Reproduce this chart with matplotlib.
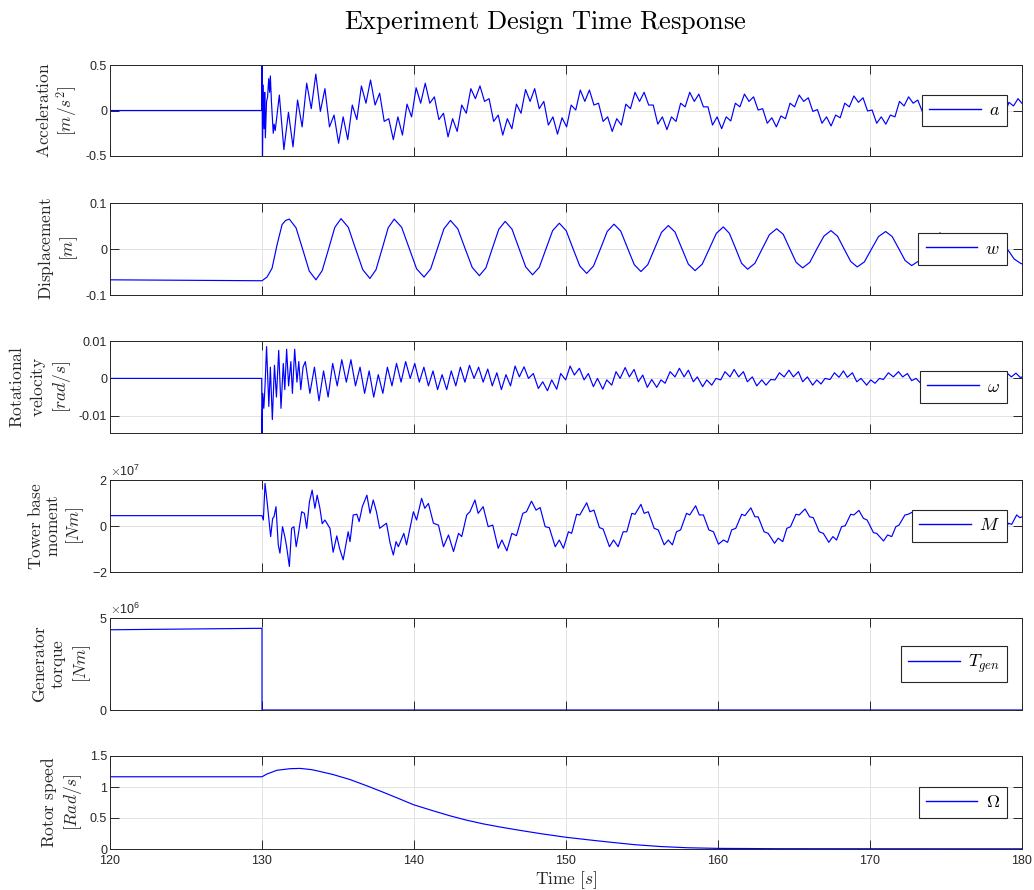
import numpy as np
import matplotlib.pyplot as plt
from matplotlib.ticker import FuncFormatter, ScalarFormatter

plt.rcParams['font.family'] = 'Liberation Sans'
plt.rcParams['mathtext.fontset'] = 'cm'
plt.rcParams['axes.unicode_minus'] = False

# ---- acceleration a [m/s^2] ----
acc_pre_t = [120.0, 129.98]
acc_pre = [0.0, 0.0]
acc_tr_t = [130.0, 130.03, 130.08, 130.14, 130.18, 130.22, 130.3, 130.37, 130.44,
            130.5, 130.55, 130.62, 130.74, 130.8, 130.87]
acc_tr = [0.6, -0.6, 0.28, -0.2, 0.2, -0.3, 0.1, 0.15, 0.35, 0.2, 0.38, 0.1, -0.25, -0.15, -0.22]
# fast wiggle extremes, read every 0.3 s from t=131.14
acc_t0 = 131.14
acc_dt = 0.3
acc_vals = [0.17, -0.43, -0.02, -0.40, 0.115, -0.18, 0.30, 0.02, 0.40, -0.01,
            0.24, -0.18, -0.05, -0.36, -0.07, -0.32, 0.06, -0.10, 0.27, 0.08,
            0.335, 0.06, 0.19, -0.12, -0.09, -0.32, -0.07, -0.27, 0.07, -0.07,
            0.25, 0.08, 0.30, 0.08, 0.15, -0.10, -0.03, -0.29, -0.09, -0.23,
            0.06, -0.03, 0.24, 0.13, 0.27, 0.10, 0.13, -0.12, -0.05, -0.27,
            -0.09, -0.20, 0.07, -0.03, 0.23, 0.10, 0.24, 0.02, 0.10, -0.16,
            -0.07, -0.26, -0.08, -0.18, 0.06, 0.005, 0.225, 0.10, 0.225, 0.06,
            0.08, -0.12, -0.07, -0.23, -0.09, -0.16, 0.07, 0.02, 0.20, 0.10,
            0.20, 0.06, 0.06, -0.15, -0.07, -0.21, -0.07, -0.12, 0.08, 0.04,
            0.20, 0.10, 0.18, 0.04, 0.04, -0.16, -0.07, -0.20, -0.07, -0.115,
            0.08, 0.04, 0.18, 0.10, 0.15, 0.005, 0.02, -0.14, -0.08, -0.18,
            -0.06, -0.09, 0.08, 0.04, 0.17, 0.10, 0.14, -0.01, 0.01, -0.14,
            -0.07, -0.17, -0.05, -0.08, 0.08, 0.04, 0.16, 0.09, 0.14, -0.005,
            0.005, -0.14, -0.07, -0.15, -0.05, -0.07, 0.10, 0.05, 0.15, 0.08,
            0.115, -0.01, 0.00, -0.13, -0.06, -0.14, -0.05, -0.06, 0.09, 0.05,
            0.14, 0.08, 0.11, -0.01, 0.00, -0.12, -0.06, -0.13, -0.05, -0.05,
            0.09, 0.05, 0.13, 0.07]

# ---- tower displacement w [m] ----
disp_t = [120.0, 130.0, 130.33, 130.66, 130.99, 131.32, 131.55, 131.8,
          132.24, 132.68, 133.11, 133.55, 133.96, 134.38, 134.79, 135.2,
          135.68, 136.15, 136.63, 137.1, 137.5, 137.9, 138.3, 138.7,
          139.19, 139.68, 140.17, 140.66, 141.1, 141.53, 141.97, 142.4,
          142.88, 143.35, 143.83, 144.3, 144.73, 145.15, 145.58, 146.0,
          146.45, 146.9, 147.35, 147.8, 148.24, 148.68, 149.12, 149.56,
          150.01, 150.46, 150.91, 151.36, 151.81, 152.26, 152.71, 153.16,
          153.6, 154.05, 154.49, 154.93, 155.38, 155.83, 156.28, 156.73,
          157.17, 157.61, 158.05, 158.49, 158.96, 159.42, 159.89, 160.35,
          160.75, 161.15, 161.55, 161.95, 162.43, 162.9, 163.38, 163.86,
          164.29, 164.72, 165.14, 165.57, 166.04, 166.5, 166.97, 167.43,
          167.86, 168.3, 168.73, 169.16, 169.63, 170.1, 170.56, 171.03,
          171.46, 171.89, 172.31, 172.74, 173.21, 173.67, 174.14, 174.6,
          175.03, 175.45, 175.88, 176.3, 176.75, 177.2, 177.65, 178.1,
          178.56, 179.03, 179.49, 179.95, 180.0]
disp = [-0.067, -0.069, -0.061, -0.042, 0.009, 0.053, 0.062, 0.065,
        0.046, -0.001, -0.048, -0.067, -0.047, 0.0, 0.047, 0.066,
        0.047, 0.001, -0.045, -0.064, -0.045, 0.0, 0.046, 0.065,
        0.047, 0.002, -0.043, -0.061, -0.043, 0.0, 0.044, 0.062,
        0.044, 0.002, -0.040, -0.058, -0.041, 0.001, 0.043, 0.060,
        0.043, 0.002, -0.039, -0.056, -0.040, 0.0, 0.040, 0.056,
        0.040, 0.001, -0.037, -0.053, -0.037, 0.0, 0.038, 0.054,
        0.039, 0.002, -0.034, -0.049, -0.034, 0.001, 0.036, 0.051,
        0.037, 0.002, -0.033, -0.047, -0.033, 0.0, 0.034, 0.048,
        0.034, 0.002, -0.031, -0.044, -0.031, 0.0, 0.031, 0.044,
        0.032, 0.001, -0.029, -0.041, -0.029, 0.0, 0.028, 0.040,
        0.028, 0.0, -0.027, -0.039, -0.028, 0.0, 0.027, 0.038,
        0.027, 0.001, -0.025, -0.036, -0.026, 0.0, 0.025, 0.035,
        0.025, 0.0, -0.024, -0.034, -0.024, 0.0, 0.023, 0.033,
        0.023, 0.0, -0.022, -0.032, -0.032]

# ---- rotational velocity omega [rad/s] ----
om_t = [120.0, 129.98, 130.0, 130.05, 130.12, 130.2, 130.3, 130.45, 130.55, 130.68,
        130.82, 130.95, 131.1, 131.25, 131.4, 131.5, 131.62, 131.75, 131.9, 132.0,
        132.15, 132.3, 132.42, 132.55, 132.7,
        132.85, 133.15, 133.45, 133.75, 134.05, 134.35, 134.65, 134.95, 135.25, 135.55,
        135.85, 136.15, 136.45, 136.75, 137.05, 137.35, 137.65, 137.95, 138.25, 138.55,
        138.85, 139.15, 139.45, 139.75, 140.05, 140.35, 140.65, 140.95, 141.25, 141.55,
        141.85, 142.15, 142.45, 142.75, 143.05, 143.35, 143.65, 143.95, 144.25, 144.55,
        144.85, 145.15, 145.45, 145.75, 146.05, 146.35,
        146.65, 146.93, 147.24, 147.53, 147.85, 148.18, 148.47, 148.78, 149.06, 149.39,
        149.65, 149.98, 150.27, 150.55, 150.88, 151.19, 151.47, 151.80, 152.07, 152.42,
        152.68, 153.01, 153.29, 153.56, 153.89, 154.17, 154.48, 154.76, 155.05, 155.35,
        155.64, 155.97, 156.25, 156.52, 156.85, 157.17, 157.46, 157.77, 158.05, 158.38,
        158.64, 158.99, 159.26, 159.59, 159.87, 160.18, 160.46, 160.79, 161.06, 161.36,
        161.67, 161.93, 162.26, 162.55, 162.88, 163.16, 163.47, 163.75, 164.04, 164.35,
        164.67, 164.96, 165.29, 165.57, 165.88, 166.23, 166.50, 166.78, 167.04, 167.37,
        167.66, 167.96, 168.25, 168.51, 168.84, 169.13, 169.41, 169.78, 170.05, 170.33,
        170.62, 170.88, 171.21, 171.54, 171.87, 172.15, 172.46, 172.74, 173.03, 173.34,
        173.62, 173.93, 174.2, 174.5, 174.8, 175.1, 175.4, 175.7, 176.0, 176.3,
        176.6, 176.9, 177.2, 177.5, 177.8, 178.1, 178.4, 178.7, 179.0, 179.3,
        179.6, 179.9, 180.0]
om = [0.0, 0.0, -0.0146, -0.004, -0.008, -0.002, 0.0085, -0.0075, 0.003, -0.011,
      0.0035, -0.005, 0.0075, -0.008, 0.004, -0.003, 0.0078, -0.002, 0.0045, -0.004,
      0.0078, -0.001, 0.0045, -0.003, 0.003,
      0.0045, -0.004, 0.003, -0.006, 0.002, -0.005, 0.004, -0.002, 0.005, -0.001,
      0.005, -0.002, 0.003, -0.004, 0.002, -0.005, 0.001, -0.004, 0.003, -0.002,
      0.004, -0.001, 0.0045, 0.0, 0.004, -0.001, 0.003, -0.002, 0.002, -0.003,
      0.001, -0.003, 0.002, -0.002, 0.003, -0.001, 0.0035, 0.0, 0.003, -0.001,
      0.0025, -0.002, 0.0015, -0.003, 0.001, -0.002,
      0.0033, 0.0004, 0.0031, 0.0, 0.0013, -0.0027, -0.0009, -0.0033, -0.0004, -0.0029,
      0.0013, -0.0004, 0.0033, 0.0009, 0.0027, -0.0004, 0.0013, -0.0022, 0.0, -0.0029,
      -0.0004, -0.0018, 0.0018, 0.0, 0.0029, 0.0004, 0.0024, -0.0009, 0.0009, -0.0024,
      -0.0003, -0.0024, -0.0004, -0.0013, 0.0018, 0.0004, 0.0027, 0.0004, 0.0022, -0.0009,
      0.0004, -0.0022, -0.0004, -0.0018, 0.0, -0.0004, 0.0018, 0.0004, 0.0024, 0.0004,
      0.0018, -0.0009, 0.0004, -0.0020, -0.0004, -0.0018, -0.0003, -0.0004, 0.0015, 0.0004,
      0.0022, 0.0004, 0.0018, -0.0009, 0.0004, -0.0018, -0.0004, -0.0015, 0.0, -0.0003,
      0.0015, 0.0003, 0.0020, 0.0003, 0.0015, -0.0009, 0.0, -0.0018, -0.0004, -0.0013,
      0.0, -0.0003, 0.0015, 0.0004, 0.0018, 0.0004, 0.0013, -0.0006, 0.0, -0.0013,
      -0.0004, -0.0013, 0.0, -0.0002, 0.0013, 0.0003, 0.0016, 0.0003, 0.0012, -0.0006,
      0.0, -0.0012, -0.0003, -0.0011, 0.0, -0.0002, 0.0013, 0.0003, 0.0015, 0.0004,
      0.0014, 0.0002, 0.0004]

# ---- tower base moment M [1e7 Nm] ----
mom_t = [120.0, 130.0, 130.09, 130.2, 130.37, 130.57, 130.70, 130.79, 130.92, 131.07,
         131.18, 131.35, 131.50, 131.62, 131.80, 131.95, 132.10, 132.25, 132.40, 132.61,
         132.79, 132.94, 133.12, 133.30, 133.48, 133.63, 133.81, 133.96, 134.14, 134.47,
         134.68, 134.92, 135.10, 135.34, 135.67, 135.79, 136.00, 136.24, 136.39, 136.60,
         136.90, 137.11, 137.32, 137.53, 137.74, 138.19, 138.43, 138.64, 138.82, 138.97,
         139.33, 139.51, 139.96, 140.17, 140.50, 140.71, 140.95, 141.28, 141.61, 141.94,
         142.27, 142.60, 142.93, 143.14, 143.47, 143.68, 144.01, 144.22, 144.55, 144.88,
         145.18, 145.54, 145.78, 146.11, 146.44, 146.74,
         147.16, 147.40, 147.73, 148.03, 148.30, 148.63, 148.90, 149.29, 149.56, 149.83,
         150.16, 150.37, 150.70, 150.91, 151.36, 151.57, 151.84, 152.20, 152.44, 152.86,
         153.13, 153.43, 153.76, 154.00, 154.33, 154.54, 154.93, 155.14, 155.41, 155.80,
         156.07, 156.46, 156.73, 157.00, 157.27, 157.54, 157.93, 158.14, 158.53, 158.77,
         159.04, 159.40, 159.70, 160.03, 160.36, 160.63, 160.90, 161.17, 161.56, 161.77,
         162.16, 162.43, 162.64, 163.03, 163.30, 163.72, 163.96, 164.26, 164.53, 164.77,
         165.13, 165.34, 165.73, 166.03, 166.27, 166.66, 166.93, 167.29, 167.56, 167.80,
         168.13, 168.37, 168.73, 168.94, 169.27, 169.57, 169.81, 170.23, 170.44, 170.89,
         171.16, 171.43, 171.70, 171.91, 172.30, 172.51, 172.84, 173.1, 173.4, 173.8,
         174.1, 174.5, 174.8, 175.1, 175.4, 175.6, 176.0, 176.2, 176.5, 176.8,
         177.1, 177.5, 177.8, 178.2, 178.5, 178.7, 179.11, 179.32, 179.65, 179.86, 180.0]
mom = [0.45, 0.45, 0.26, 1.85, 0.84, -0.46, 0.33, 0.40, 0.84, -0.82,
       -1.18, -0.03, -0.46, -0.90, -1.76, -0.10, -0.03, -0.90, -0.32, 0.62,
       0.55, -0.10, 1.05, 1.56, 0.77, 1.34, 0.77, 0.10, 0.26, -0.10,
       -1.14, -0.43, -0.97, -1.47, -0.25, -0.68, 0.48, 0.51, 0.19, 0.84,
       1.34, 0.55, 1.13, 0.62, -0.10, 0.12, -0.75, -1.26, -0.68, -0.90,
       -0.32, -0.82, 0.62, 0.26, 1.20, 0.77, 0.98, 0.12, 0.04, -0.90,
       -0.39, -1.11, -0.32, -0.46, 0.48, 0.62, 1.13, 0.55, 0.84, -0.03,
       0.04, -0.97, -0.61, -1.08, -0.32, -0.42,
       0.55, 0.62, 1.08, 0.69, 0.80, -0.03, -0.07, -0.90, -0.61, -0.97,
       -0.25, -0.32, 0.51, 0.48, 1.01, 0.62, 0.69, -0.07, -0.13, -0.90,
       -0.61, -0.90, -0.25, -0.25, 0.55, 0.51, 0.94, 0.55, 0.62, -0.10,
       -0.17, -0.82, -0.61, -0.82, -0.25, -0.17, 0.55, 0.48, 0.88, 0.48,
       0.48, -0.17, -0.25, -0.79, -0.61, -0.71, -0.17, -0.10, 0.51, 0.45,
       0.79, 0.40, 0.40, -0.25, -0.32, -0.75, -0.53, -0.68, -0.10, -0.03,
       0.51, 0.48, 0.74, 0.40, 0.36, -0.25, -0.32, -0.71, -0.46, -0.61,
       -0.03, 0.01, 0.51, 0.48, 0.68, 0.33, 0.26, -0.29, -0.32, -0.65,
       -0.39, -0.46, -0.03, 0.04, 0.48, 0.51, 0.62, 0.35, 0.30, -0.25,
       -0.30, -0.60, -0.40, -0.45, 0.0, 0.05, 0.45, 0.45, 0.58, 0.30,
       0.25, -0.25, -0.30, -0.55, -0.35, -0.42, 0.12, 0.07, 0.48, 0.36, 0.40]

# ---- generator torque [1e6 Nm] ----
tgen_t = [120.0, 130.0, 130.0, 180.0]
tgen = [4.36, 4.44, 0.0, 0.0]

# ---- rotor speed [rad/s] ----
rotor_t = [120.0, 130.0, 130.33, 130.99, 131.84, 132.5, 133.27, 133.82, 134.69, 135.79,
           136.89, 137.98, 139.08, 139.96, 141.27, 142.37, 143.46, 144.56, 145.66, 146.86,
           148.4, 149.98, 151.4, 152.9, 154.5, 156.2, 158.0, 160.0, 163.9, 170.0, 180.0]
rotor = [1.165, 1.165, 1.21, 1.27, 1.295, 1.30, 1.28, 1.25, 1.20, 1.12,
         1.02, 0.915, 0.805, 0.715, 0.615, 0.535, 0.465, 0.405, 0.355, 0.305,
         0.245, 0.19, 0.15, 0.11, 0.07, 0.04, 0.02, 0.01, 0.005, 0.004, 0.003]

acc_t = acc_t0 + acc_dt * np.arange(len(acc_vals))
a_t = np.concatenate([acc_pre_t, acc_tr_t, acc_t])
a_v = np.concatenate([acc_pre, acc_tr, acc_vals])

fig = plt.figure(figsize=(10.34, 8.9), dpi=100)
W, H = 1034.0, 890.0
boxes = [(65, 156), (203, 295), (341, 433), (480, 572), (618, 710), (756, 849)]
axes = []
for top, bot in boxes:
    axes.append(fig.add_axes([110 / W, 1 - bot / H, 912 / W, (bot - top) / H]))

dark = '#262626'
blue = '#0000ff'
series = [
    (a_t, a_v, r'$a$', (-0.5, 0.5), [-0.5, 0, 0.5],
     r'$\mathrm{Acceleration}$' + '\n' + r'$[m/s^2]$'),
    (disp_t, disp, r'$w$', (-0.1, 0.1), [-0.1, 0, 0.1],
     r'$\mathrm{Displacement}$' + '\n' + r'$[m]$'),
    (om_t, om, r'$\omega$', (-0.0146, 0.01), [-0.01, 0, 0.01],
     r'$\mathrm{Rotational}$' + '\n' + r'$\mathrm{velocity}$' + '\n' + r'$[rad/s]$'),
    (mom_t, np.array(mom) * 1e7, r'$M$', (-2e7, 2e7), [-2e7, 0, 2e7],
     r'$\mathrm{Tower\ base}$' + '\n' + r'$\mathrm{moment}$' + '\n' + r'$[Nm]$'),
    (tgen_t, np.array(tgen) * 1e6, r'$T_{gen}$', (0, 5e6), [0, 5e6],
     r'$\mathrm{Generator}$' + '\n' + r'$\mathrm{torque}$' + '\n' + r'$[Nm]$'),
    (rotor_t, rotor, r'$\Omega$', (0, 1.5), [0, 0.5, 1, 1.5],
     r'$\mathrm{Rotor\ speed}$' + '\n' + r'$[Rad/s]$'),
]

for k, (ax, (x, y, lab, ylim, yt, ylab)) in enumerate(zip(axes, series)):
    ln, = ax.plot(x, y, color=blue, linewidth=0.85)
    ax.set_xlim(120, 180)
    ax.set_ylim(*ylim)
    ax.set_xticks(np.arange(120, 181, 10))
    ax.set_yticks(yt)
    if k in (3, 4):
        fmt = ScalarFormatter(useMathText=True)
        ax.yaxis.set_major_formatter(fmt)
        ax.yaxis.get_offset_text().set_fontsize(9)
        ax.yaxis.get_offset_text().set_color(dark)
    else:
        ax.yaxis.set_major_formatter(FuncFormatter(lambda v, p: '%g' % v))
    ax.grid(True, color='#dedede', linewidth=0.6)
    ax.set_axisbelow(True)
    for s in ax.spines.values():
        s.set_color(dark)
        s.set_linewidth(0.7)
    ax.tick_params(direction='in', top=True, right=True, length=6.5, width=0.7,
                   color=dark, labelcolor=dark, labelsize=9)
    ax.tick_params(axis='y', pad=2)
    ax.tick_params(axis='x', pad=4)
    if k < 5:
        ax.tick_params(labelbottom=False)
    ax.set_ylabel(ylab, fontsize=12.5, color=dark, multialignment='center', labelpad=4)
    leg = ax.legend([ln], [lab], loc='center right', fontsize=13, handlelength=2.85,
                    handletextpad=0.45, borderaxespad=0.83, borderpad=0.4,
                    fancybox=False, framealpha=1, edgecolor=dark)
    leg.get_frame().set_linewidth(0.8)
    for hl in leg.get_lines():
        hl.set_color(blue)
        hl.set_linewidth(1.0)

axes[-1].set_xlabel(r'$\mathrm{Time}\ [s]$', fontsize=12.5, color=dark, labelpad=2)
fig.text(0.527, 0.975, r'$\mathrm{Experiment\ Design\ Time\ Response}$',
         fontsize=19, ha='center', va='center', color='black')

fig.savefig('out.png', dpi=100)
